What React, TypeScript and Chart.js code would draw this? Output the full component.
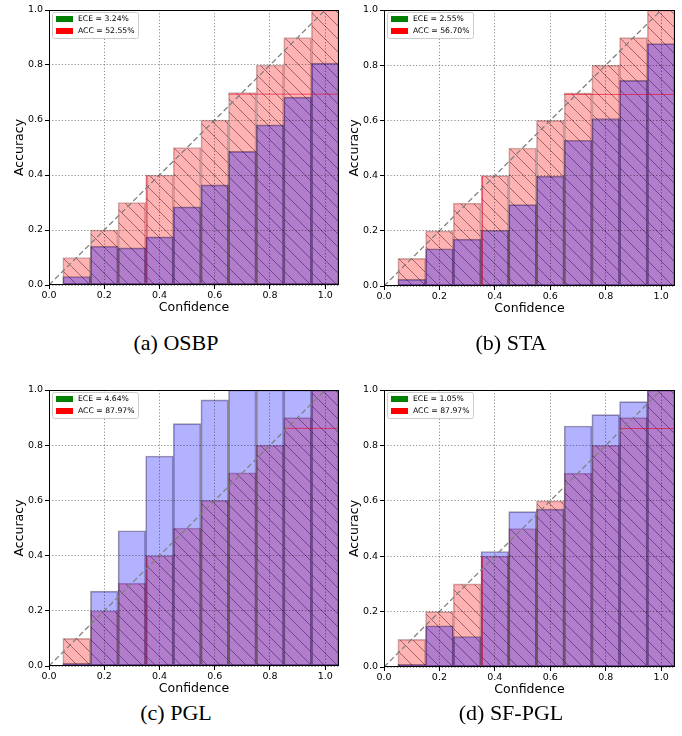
import React, { useEffect, useRef } from "react";
import { Chart, registerables } from "chart.js";

Chart.register(...registerables);

// ---------- data ----------
const binCenters = [0.1, 0.2, 0.3, 0.4, 0.5, 0.6, 0.7, 0.8, 0.9, 1.0];
const expectedAcc = [0.1, 0.2, 0.3, 0.4, 0.5, 0.6, 0.7, 0.8, 0.9, 1.0];
const osbpAcc = [0.031, 0.141, 0.135, 0.175, 0.284, 0.364, 0.486, 0.582, 0.683, 0.807];
const staAcc = [0.024, 0.135, 0.17, 0.202, 0.295, 0.398, 0.528, 0.607, 0.745, 0.878];
const pglAcc = [0.01, 0.271, 0.49, 0.761, 0.878, 0.964, 1.0, 1.0, 1.0, 1.0];
const sfpglAcc = [0.01, 0.149, 0.11, 0.417, 0.561, 0.57, 0.87, 0.911, 0.958, 1.0];
const eceTexts = ["ECE = 3.24%", "ECE = 2.55%", "ECE = 4.64%", "ECE = 1.05%"];
const accTexts = ["ACC = 52.55%", "ACC = 56.70%", "ACC = 87.97%", "ACC = 87.97%"];
const captions = ["(a) OSBP", "(b) STA", "(c) PGL", "(d) SF-PGL"];
const refLevels = [0.694, 0.694, 0.861, 0.861];
const refStarts = [0.65, 0.65, 0.85, 0.85];
const edgeLineX = [0.355, 0.355];
const edgeLineY = [0, 0.4];
const diagX = [0, 1];
const diagY = [0, 1];
const xTicks = [0, 0.2, 0.4, 0.6, 0.8, 1.0];
const yTicks = [0, 0.2, 0.4, 0.6, 0.8, 1.0];
const xMax = 1.05;
const panelAcc = [osbpAcc, staAcc, pglAcc, sfpglAcc];

// ---------- layout ----------
const plots = [
  { left: 49, top: 10, right: 339, bottom: 285 },
  { left: 384, top: 10, right: 675, bottom: 286 },
  { left: 49, top: 390, right: 339, bottom: 666 },
  { left: 384, top: 390, right: 675, bottom: 667 },
];
const captionPos = [
  { cx: 176, cy: 343 },
  { cx: 511, cy: 343 },
  { cx: 176, cy: 713 },
  { cx: 511, cy: 713 },
];
const Y_W = 49;
const X_H = 30;
const PAD_T = 10;
const PAD_R = 3;

function makeHatch(): CanvasPattern {
  const s = 13;
  const c = document.createElement("canvas");
  c.width = s;
  c.height = s;
  const g = c.getContext("2d")!;
  g.fillStyle = "rgba(255,0,0,0.3)";
  g.fillRect(0, 0, s, s);
  g.strokeStyle = "rgba(40,0,20,0.45)";
  g.lineWidth = 1;
  g.beginPath();
  g.moveTo(-2, -2);
  g.lineTo(s + 2, s + 2);
  g.moveTo(-2, s - 2);
  g.lineTo(2, s + 2);
  g.moveTo(s - 2, -2);
  g.lineTo(s + 2, 2);
  g.stroke();
  return g.createPattern(c, "repeat")!;
}

const legendPlugin = {
  id: "calibLegend",
  afterDraw(chart: any, _args: any, opts: any) {
    const { ctx, chartArea } = chart;
    const x = chartArea.left + 3;
    const y = chartArea.top + 2;
    const w = 86;
    const h = 26;
    ctx.save();
    ctx.fillStyle = "rgba(255,255,255,0.85)";
    ctx.strokeStyle = "#cccccc";
    ctx.lineWidth = 1;
    ctx.setLineDash([]);
    ctx.beginPath();
    if ((ctx as any).roundRect) (ctx as any).roundRect(x + 0.5, y + 0.5, w, h, 2);
    else ctx.rect(x + 0.5, y + 0.5, w, h);
    ctx.fill();
    ctx.stroke();
    ctx.fillStyle = "#008000";
    ctx.fillRect(x + 4, y + 4, 17, 6);
    ctx.fillStyle = "#ff0000";
    ctx.fillRect(x + 4, y + 16, 17, 6);
    ctx.fillStyle = "#000";
    ctx.font = '7.7px "DejaVu Sans"';
    ctx.textBaseline = "middle";
    ctx.textAlign = "left";
    ctx.fillText(opts.ece, x + 26, y + 7.5);
    ctx.fillText(opts.acc, x + 26, y + 19.5);
    ctx.restore();
  },
};

const framePlugin = {
  id: "frame",
  afterDraw(chart: any) {
    const { ctx, chartArea } = chart;
    ctx.save();
    ctx.strokeStyle = "#000";
    ctx.lineWidth = 1;
    ctx.setLineDash([]);
    const l = Math.round(chartArea.left) + 0.5;
    const t = Math.round(chartArea.top) + 0.5;
    const r = Math.round(chartArea.right) - 0.5;
    const b = Math.round(chartArea.bottom) - 0.5;
    ctx.strokeRect(l, t, r - l, b - t);
    ctx.restore();
  },
};

function Panel({ idx }: { idx: number }) {
  const ref = useRef<HTMLCanvasElement>(null);
  const p = plots[idx];
  const cl = p.left - Y_W;
  const ct = p.top - PAD_T;
  const cw = p.right - p.left + Y_W + PAD_R;
  const ch = p.bottom - p.top + PAD_T + X_H;

  useEffect(() => {
    const canvas = ref.current!;
    const hatch = makeHatch();
    const acc = panelAcc[idx];
    const gridOpts = {
      color: "rgba(0,0,0,0.55)",
      lineWidth: 0.8,
      tickColor: "#000",
      tickLength: 4,
      tickWidth: 1,
      tickBorderDash: [],
      z: 1,
    };
    const chart = new Chart(canvas, {
      type: "bar",
      data: {
        datasets: [
          {
            type: "line",
            data: diagX.map((x, i) => ({ x, y: diagY[i] })),
            borderColor: "rgba(128,128,128,1)",
            borderWidth: 1.3,
            borderDash: [5.5, 3],
            pointRadius: 0,
            order: 0,
          } as any,
          {
            type: "line",
            data: [
              { x: refStarts[idx], y: refLevels[idx] },
              { x: xMax, y: refLevels[idx] },
            ],
            borderColor: "rgba(230,0,40,0.6)",
            borderWidth: 1,
            pointRadius: 0,
            order: 1,
          } as any,
          {
            type: "line",
            data: edgeLineX.map((x, i) => ({ x, y: edgeLineY[i] })),
            borderColor: "rgba(230,0,40,0.6)",
            borderWidth: 1,
            pointRadius: 0,
            order: 1,
          } as any,
          {
            type: "bar",
            data: binCenters.map((x, i) => ({ x, y: acc[i] })),
            backgroundColor: "rgba(0,0,255,0.3)",
            borderColor: "rgba(20,0,30,0.4)",
            borderWidth: 1,
            borderSkipped: false,
            grouped: false,
            barPercentage: 1,
            categoryPercentage: 1,
            order: 2,
          } as any,
          {
            type: "bar",
            data: binCenters.map((x, i) => ({ x, y: expectedAcc[i] })),
            backgroundColor: hatch,
            borderColor: "rgba(80,0,0,0.3)",
            borderWidth: 1,
            borderSkipped: false,
            grouped: false,
            barPercentage: 1,
            categoryPercentage: 1,
            order: 3,
          } as any,
        ],
      },
      options: {
        animation: false,
        responsive: false,
        devicePixelRatio: 1,
        events: [],
        layout: { padding: { top: PAD_T, right: PAD_R, left: 0, bottom: 0 } },
        plugins: {
          legend: { display: false },
          tooltip: { enabled: false },
          calibLegend: { ece: eceTexts[idx], acc: accTexts[idx] },
        } as any,
        scales: {
          x: {
            type: "linear",
            min: 0,
            max: xMax,
            offset: false,
            afterBuildTicks: (scale: any) => {
              scale.ticks = xTicks.map((v) => ({ value: v }));
            },
            afterFit: (scale: any) => {
              scale.height = X_H;
            },
            ticks: {
              color: "#000",
              font: { family: "DejaVu Sans", size: 9.5 },
              padding: 1,
              maxRotation: 0,
              autoSkip: false,
              callback: (v: any) => Number(v).toFixed(1),
            },
            grid: { ...gridOpts, offset: false },
            border: { display: false, dash: [1.2, 2] },
            title: {
              display: true,
              text: "Confidence",
              color: "#000",
              font: { family: "DejaVu Sans", size: 12.5 },
              padding: { top: 0, bottom: 0 },
            },
          } as any,
          y: {
            type: "linear",
            min: 0,
            max: 1,
            afterBuildTicks: (scale: any) => {
              scale.ticks = yTicks.map((v) => ({ value: v }));
            },
            afterFit: (scale: any) => {
              scale.width = Y_W;
            },
            ticks: {
              color: "#000",
              font: { family: "DejaVu Sans", size: 9.5 },
              padding: 2,
              callback: (v: any) => Number(v).toFixed(1),
            },
            grid: gridOpts,
            border: { display: false, dash: [1.2, 2] },
            title: {
              display: true,
              text: "Accuracy",
              color: "#000",
              font: { family: "DejaVu Sans", size: 12.5 },
              padding: { top: 12.5, bottom: 0 },
            },
          } as any,
        },
      },
      plugins: [legendPlugin, framePlugin],
    } as any);
    return () => chart.destroy();
  }, [idx]);

  return (
    <canvas
      ref={ref}
      width={cw}
      height={ch}
      style={{ position: "absolute", left: cl, top: ct, width: cw, height: ch }}
    />
  );
}

export default function App() {
  return (
    <div
      style={{
        position: "absolute",
        left: 0,
        top: 0,
        width: 682,
        height: 736,
        background: "#fff",
        overflow: "hidden",
      }}
    >
      {plots.map((_, i) => (
        <Panel key={i} idx={i} />
      ))}
      {captions.map((c, i) => (
        <div
          key={"c" + i}
          style={{
            position: "absolute",
            left: captionPos[i].cx - 120,
            top: captionPos[i].cy - 13,
            width: 240,
            height: 26,
            lineHeight: "26px",
            textAlign: "center",
            fontFamily: '"Liberation Serif", serif',
            fontSize: 22,
            color: "#000",
            whiteSpace: "nowrap",
          }}
        >
          {c}
        </div>
      ))}
    </div>
  );
}
